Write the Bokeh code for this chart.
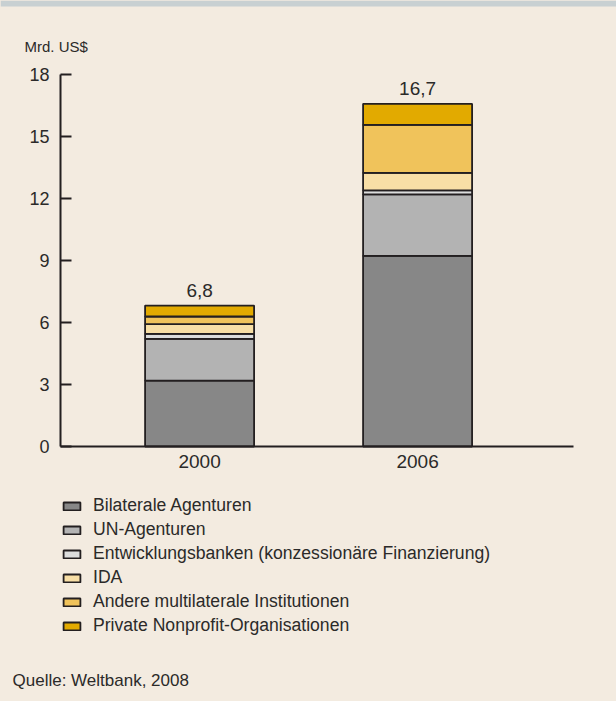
from bokeh.plotting import figure
from bokeh.models import (Range1d, FixedTicker, Legend, LegendItem, Label,
                          ColumnDataSource, BoxAnnotation)
from bokeh.core.properties import value
from bokeh.embed import file_html
from bokeh.resources import INLINE

# ---- data ----
years = ["2000", "2006"]
series = ["Bilaterale Agenturen", "UN-Agenturen",
          "Entwicklungsbanken (konzessionäre Finanzierung)", "IDA",
          "Andere multilaterale Institutionen", "Private Nonprofit-Organisationen"]
bilaterale = [3.19, 9.22]
un_agenturen = [2.02, 2.98]
entwicklungsbanken = [0.24, 0.19]
ida = [0.47, 0.85]
andere = [0.37, 2.32]
private = [0.53, 1.02]
totals = [6.8, 16.7]
y_ticks = [0, 3, 6, 9, 12, 15, 18]

colors = ["#878787", "#B3B3B3", "#DCDDDD", "#F8DFA6", "#F0C35B", "#E2AA00"]
keys = ["bil", "un", "eb", "ida", "and", "pri"]

FONT = "Liberation Sans"
TXT = "#2B2A29"
BG = "#F3EBE0"

# axis extent in data units; the frame covers the whole canvas
X0, X1 = -0.638, 1.715
Y0, Y1 = 0, 18
px_x = 218.0          # pixels per x unit
px_y = 372 / 18       # pixels per y unit

xs = list(range(len(years)))
src = ColumnDataSource(dict(x=xs, bil=bilaterale, un=un_agenturen,
                            eb=entwicklungsbanken, ida=ida, pri=private,
                            **{"and": andere}))

p = figure(width=616, height=701, output_backend="svg", toolbar_location=None,
           x_range=Range1d(X0 - 60 / px_x, X0 + 556 / px_x),
           y_range=Range1d(Y0 - 255 / px_y, Y1 + 74 / px_y),
           min_border_left=0, min_border_right=0, min_border_top=0,
           min_border_bottom=0)
p.background_fill_color = None
p.border_fill_color = BG
p.outline_line_color = None
p.xgrid.visible = False
p.ygrid.visible = False
p.styles = {"position": "absolute", "left": "0px", "top": "0px",
            "background-color": BG}

# grey band along the top edge
p.add_layout(BoxAnnotation(bottom=Y1 + 68 / px_y, fill_color="#C8D0D2",
                           fill_alpha=1, line_color=None, level="underlay"))

rs = p.vbar_stack(keys, x="x", width=0.5, source=src, fill_color=colors,
                  line_color="#231F20", line_width=1.8)

# totals above bars
tops = [sum(v) for v in zip(bilaterale, un_agenturen, entwicklungsbanken, ida, andere, private)]
label_y = [t + 15 / px_y for t in tops]
labels = [f"{t:.1f}".replace(".", ",") for t in totals]
p.text(x=xs, y=label_y, text=labels, text_align="center",
       text_baseline="middle", text_font=value(FONT), text_font_size="19px",
       text_color=TXT)

# axes
xa = p.xaxis[0]
xa.fixed_location = Y0
xa.bounds = (X0, X1)
xa.ticker = FixedTicker(ticks=xs)
xa.major_label_overrides = {i: y for i, y in enumerate(years)}
xa.major_tick_line_color = None
xa.minor_tick_line_color = None
xa.axis_line_color = "#231F20"
xa.axis_line_width = 2
xa.major_label_text_font = FONT
xa.major_label_text_font_size = "19px"
xa.major_label_text_color = TXT
xa.major_label_standoff = 2

ya = p.yaxis[0]
ya.fixed_location = X0
ya.bounds = (Y0, Y1)
ya.ticker = FixedTicker(ticks=y_ticks)
ya.major_tick_in = 11
ya.major_tick_out = 0
ya.major_tick_line_width = 2
ya.major_tick_line_color = "#231F20"
ya.minor_tick_line_color = None
ya.axis_line_color = "#231F20"
ya.axis_line_width = 2
ya.major_label_text_font = FONT
ya.major_label_text_font_size = "18px"
ya.major_label_text_color = TXT
ya.major_label_standoff = 11

p.add_layout(Label(x=X0 - 36 / px_x, y=Y1 + 28.5 / px_y, text="Mrd. US$",
                   text_font=FONT, text_font_size="15px", text_color=TXT,
                   text_baseline="middle"))
p.add_layout(Label(x=X0 - 48 / px_x, y=Y0 - 233.7 / px_y, text="Quelle: Weltbank, 2008",
                   text_font=FONT, text_font_size="17px", text_color=TXT,
                   text_baseline="middle"))

legend = Legend(items=[LegendItem(label=s, renderers=[r]) for s, r in zip(series, rs)],
                location=(61, 65), orientation="vertical",
                glyph_width=21, glyph_height=10, label_standoff=11,
                label_height=20, spacing=3, padding=0, margin=0,
                border_line_color=None, background_fill_alpha=0,
                label_text_font=FONT, label_text_font_size="17.6px",
                label_text_color=TXT)
p.add_layout(legend, "center")

open("out.html", "w").write(file_html(p, INLINE))
